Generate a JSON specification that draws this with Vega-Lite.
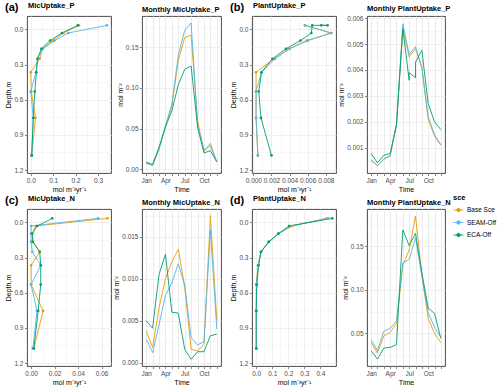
{
  "$schema": "https://vega.github.io/schema/vega-lite/v6.json",
  "background": "white",
  "padding": {"left": 4, "top": 1, "right": 2, "bottom": 4},
  "datasets": {
    "aP": [
      {"sce": "Base Sce", "depth": -0.035, "value": 0.215}, {"sce": "Base Sce", "depth": 0.03, "value": 0.145}, {"sce": "Base Sce", "depth": 0.095, "value": 0.099}, {"sce": "Base Sce", "depth": 0.165, "value": 0.051}, {"sce": "Base Sce", "depth": 0.25, "value": 0.04}, {"sce": "Base Sce", "depth": 0.365, "value": 0.0}, {"sce": "Base Sce", "depth": 0.53, "value": 0.002}, {"sce": "Base Sce", "depth": 0.755, "value": 0.021}, {"sce": "Base Sce", "depth": 1.075, "value": 0.004},
      {"sce": "SEAM-Off", "depth": -0.035, "value": 0.34}, {"sce": "SEAM-Off", "depth": 0.03, "value": 0.167}, {"sce": "SEAM-Off", "depth": 0.095, "value": 0.106}, {"sce": "SEAM-Off", "depth": 0.165, "value": 0.054}, {"sce": "SEAM-Off", "depth": 0.25, "value": 0.03}, {"sce": "SEAM-Off", "depth": 0.365, "value": 0.023}, {"sce": "SEAM-Off", "depth": 0.53, "value": 0.0}, {"sce": "SEAM-Off", "depth": 0.755, "value": 0.011}, {"sce": "SEAM-Off", "depth": 1.075, "value": 0.004},
      {"sce": "ECA-Off", "depth": -0.035, "value": 0.21}, {"sce": "ECA-Off", "depth": 0.03, "value": 0.139}, {"sce": "ECA-Off", "depth": 0.095, "value": 0.086}, {"sce": "ECA-Off", "depth": 0.165, "value": 0.047}, {"sce": "ECA-Off", "depth": 0.25, "value": 0.03}, {"sce": "ECA-Off", "depth": 0.365, "value": 0.025}, {"sce": "ECA-Off", "depth": 0.53, "value": 0.018}, {"sce": "ECA-Off", "depth": 0.755, "value": 0.011}, {"sce": "ECA-Off", "depth": 1.075, "value": 0.004}
    ],
    "bP": [
      {"sce": "Base Sce", "depth": -0.035, "value": 0.0057}, {"sce": "Base Sce", "depth": 0.03, "value": 0.0086}, {"sce": "Base Sce", "depth": 0.095, "value": 0.0059}, {"sce": "Base Sce", "depth": 0.165, "value": 0.0039}, {"sce": "Base Sce", "depth": 0.25, "value": 0.0023}, {"sce": "Base Sce", "depth": 0.365, "value": 0.0003}, {"sce": "Base Sce", "depth": 0.53, "value": 0.0003}, {"sce": "Base Sce", "depth": 0.755, "value": 0.0003}, {"sce": "Base Sce", "depth": 1.075, "value": 0.0005},
      {"sce": "SEAM-Off", "depth": -0.035, "value": 0.0057}, {"sce": "SEAM-Off", "depth": 0.03, "value": 0.0086}, {"sce": "SEAM-Off", "depth": 0.095, "value": 0.006}, {"sce": "SEAM-Off", "depth": 0.165, "value": 0.004}, {"sce": "SEAM-Off", "depth": 0.25, "value": 0.0024}, {"sce": "SEAM-Off", "depth": 0.365, "value": 0.0009}, {"sce": "SEAM-Off", "depth": 0.53, "value": 0.0003}, {"sce": "SEAM-Off", "depth": 0.755, "value": 0.0003}, {"sce": "SEAM-Off", "depth": 1.075, "value": 0.0005},
      {"sce": "ECA-Off", "depth": -0.035, "value": 0.0075}, {"sce": "ECA-Off", "depth": -0.035, "value": 0.0082}, {"sce": "ECA-Off", "depth": -0.035, "value": 0.0065}, {"sce": "ECA-Off", "depth": 0.03, "value": 0.0064}, {"sce": "ECA-Off", "depth": 0.095, "value": 0.0052}, {"sce": "ECA-Off", "depth": 0.165, "value": 0.0036}, {"sce": "ECA-Off", "depth": 0.25, "value": 0.0021}, {"sce": "ECA-Off", "depth": 0.365, "value": 0.0009}, {"sce": "ECA-Off", "depth": 0.53, "value": 0.0006}, {"sce": "ECA-Off", "depth": 0.755, "value": 0.00084}, {"sce": "ECA-Off", "depth": 1.075, "value": 0.002}
    ],
    "cN": [
      {"sce": "Base Sce", "depth": -0.035, "value": 0.065}, {"sce": "Base Sce", "depth": 0.03, "value": 0.004}, {"sce": "Base Sce", "depth": 0.095, "value": 0.001}, {"sce": "Base Sce", "depth": 0.165, "value": 0.0015}, {"sce": "Base Sce", "depth": 0.25, "value": 0.0073}, {"sce": "Base Sce", "depth": 0.365, "value": 0.0}, {"sce": "Base Sce", "depth": 0.53, "value": 0.0}, {"sce": "Base Sce", "depth": 0.755, "value": 0.0102}, {"sce": "Base Sce", "depth": 1.075, "value": 0.0023},
      {"sce": "SEAM-Off", "depth": -0.035, "value": 0.057}, {"sce": "SEAM-Off", "depth": 0.03, "value": 0.0}, {"sce": "SEAM-Off", "depth": 0.095, "value": 0.0}, {"sce": "SEAM-Off", "depth": 0.165, "value": 0.0}, {"sce": "SEAM-Off", "depth": 0.25, "value": 0.001}, {"sce": "SEAM-Off", "depth": 0.365, "value": 0.0082}, {"sce": "SEAM-Off", "depth": 0.53, "value": 0.0}, {"sce": "SEAM-Off", "depth": 0.755, "value": 0.005}, {"sce": "SEAM-Off", "depth": 1.075, "value": 0.0015},
      {"sce": "ECA-Off", "depth": -0.035, "value": 0.018}, {"sce": "ECA-Off", "depth": 0.03, "value": 0.0052}, {"sce": "ECA-Off", "depth": 0.095, "value": 0.0009}, {"sce": "ECA-Off", "depth": 0.165, "value": 0.0015}, {"sce": "ECA-Off", "depth": 0.25, "value": 0.0073}, {"sce": "ECA-Off", "depth": 0.365, "value": 0.0082}, {"sce": "ECA-Off", "depth": 0.53, "value": 0.0082}, {"sce": "ECA-Off", "depth": 0.755, "value": 0.006}, {"sce": "ECA-Off", "depth": 1.075, "value": 0.0023}
    ],
    "dN": [
      {"sce": "Base Sce", "depth": -0.035, "value": 0.438}, {"sce": "Base Sce", "depth": 0.03, "value": 0.225}, {"sce": "Base Sce", "depth": 0.095, "value": 0.14}, {"sce": "Base Sce", "depth": 0.165, "value": 0.08}, {"sce": "Base Sce", "depth": 0.25, "value": 0.03}, {"sce": "Base Sce", "depth": 0.365, "value": 0.012}, {"sce": "Base Sce", "depth": 0.53, "value": 0.0}, {"sce": "Base Sce", "depth": 0.755, "value": 0.001}, {"sce": "Base Sce", "depth": 1.075, "value": 0.001},
      {"sce": "SEAM-Off", "depth": -0.035, "value": 0.449}, {"sce": "SEAM-Off", "depth": 0.03, "value": 0.215}, {"sce": "SEAM-Off", "depth": 0.095, "value": 0.14}, {"sce": "SEAM-Off", "depth": 0.165, "value": 0.08}, {"sce": "SEAM-Off", "depth": 0.25, "value": 0.03}, {"sce": "SEAM-Off", "depth": 0.365, "value": 0.013}, {"sce": "SEAM-Off", "depth": 0.53, "value": 0.002}, {"sce": "SEAM-Off", "depth": 0.755, "value": 0.001}, {"sce": "SEAM-Off", "depth": 1.075, "value": 0.001},
      {"sce": "ECA-Off", "depth": -0.035, "value": 0.474}, {"sce": "ECA-Off", "depth": 0.03, "value": 0.205}, {"sce": "ECA-Off", "depth": 0.095, "value": 0.138}, {"sce": "ECA-Off", "depth": 0.165, "value": 0.078}, {"sce": "ECA-Off", "depth": 0.25, "value": 0.03}, {"sce": "ECA-Off", "depth": 0.365, "value": 0.015}, {"sce": "ECA-Off", "depth": 0.53, "value": 0.004}, {"sce": "ECA-Off", "depth": 0.755, "value": 0.0}, {"sce": "ECA-Off", "depth": 1.075, "value": 0.0}
    ],
    "mMP": [
      {"sce": "Base Sce", "month": 1, "value": 0.0074}, {"sce": "Base Sce", "month": 2, "value": 0.0053}, {"sce": "Base Sce", "month": 3, "value": 0.026}, {"sce": "Base Sce", "month": 4, "value": 0.053}, {"sce": "Base Sce", "month": 5, "value": 0.078}, {"sce": "Base Sce", "month": 6, "value": 0.134}, {"sce": "Base Sce", "month": 7, "value": 0.162}, {"sce": "Base Sce", "month": 8, "value": 0.165}, {"sce": "Base Sce", "month": 9, "value": 0.06}, {"sce": "Base Sce", "month": 10, "value": 0.022}, {"sce": "Base Sce", "month": 11, "value": 0.032}, {"sce": "Base Sce", "month": 12, "value": 0.009},
      {"sce": "SEAM-Off", "month": 1, "value": 0.0078}, {"sce": "SEAM-Off", "month": 2, "value": 0.0048}, {"sce": "SEAM-Off", "month": 3, "value": 0.024}, {"sce": "SEAM-Off", "month": 4, "value": 0.053}, {"sce": "SEAM-Off", "month": 5, "value": 0.08}, {"sce": "SEAM-Off", "month": 6, "value": 0.14}, {"sce": "SEAM-Off", "month": 7, "value": 0.171}, {"sce": "SEAM-Off", "month": 8, "value": 0.18}, {"sce": "SEAM-Off", "month": 9, "value": 0.055}, {"sce": "SEAM-Off", "month": 10, "value": 0.024}, {"sce": "SEAM-Off", "month": 11, "value": 0.029}, {"sce": "SEAM-Off", "month": 12, "value": 0.009},
      {"sce": "ECA-Off", "month": 1, "value": 0.009}, {"sce": "ECA-Off", "month": 2, "value": 0.006}, {"sce": "ECA-Off", "month": 3, "value": 0.027}, {"sce": "ECA-Off", "month": 4, "value": 0.052}, {"sce": "ECA-Off", "month": 5, "value": 0.072}, {"sce": "ECA-Off", "month": 6, "value": 0.104}, {"sce": "ECA-Off", "month": 7, "value": 0.123}, {"sce": "ECA-Off", "month": 8, "value": 0.127}, {"sce": "ECA-Off", "month": 9, "value": 0.052}, {"sce": "ECA-Off", "month": 10, "value": 0.02}, {"sce": "ECA-Off", "month": 11, "value": 0.023}, {"sce": "ECA-Off", "month": 12, "value": 0.009}
    ],
    "mPP": [
      {"sce": "Base Sce", "month": 1, "value": 0.00052}, {"sce": "Base Sce", "month": 2, "value": 0.00032}, {"sce": "Base Sce", "month": 3, "value": 0.00055}, {"sce": "Base Sce", "month": 4, "value": 0.00068}, {"sce": "Base Sce", "month": 5, "value": 0.0019}, {"sce": "Base Sce", "month": 6, "value": 0.00558}, {"sce": "Base Sce", "month": 7, "value": 0.0045}, {"sce": "Base Sce", "month": 8, "value": 0.00482}, {"sce": "Base Sce", "month": 9, "value": 0.0041}, {"sce": "Base Sce", "month": 10, "value": 0.0021}, {"sce": "Base Sce", "month": 11, "value": 0.00145}, {"sce": "Base Sce", "month": 12, "value": 0.0011},
      {"sce": "SEAM-Off", "month": 1, "value": 0.00055}, {"sce": "SEAM-Off", "month": 2, "value": 0.0003}, {"sce": "SEAM-Off", "month": 3, "value": 0.00058}, {"sce": "SEAM-Off", "month": 4, "value": 0.0007}, {"sce": "SEAM-Off", "month": 5, "value": 0.0019}, {"sce": "SEAM-Off", "month": 6, "value": 0.00578}, {"sce": "SEAM-Off", "month": 7, "value": 0.0046}, {"sce": "SEAM-Off", "month": 8, "value": 0.0049}, {"sce": "SEAM-Off", "month": 9, "value": 0.0041}, {"sce": "SEAM-Off", "month": 10, "value": 0.0022}, {"sce": "SEAM-Off", "month": 11, "value": 0.0015}, {"sce": "SEAM-Off", "month": 12, "value": 0.00112},
      {"sce": "ECA-Off", "month": 1, "value": 0.00078}, {"sce": "ECA-Off", "month": 2, "value": 0.00042}, {"sce": "ECA-Off", "month": 3, "value": 0.00071}, {"sce": "ECA-Off", "month": 4, "value": 0.00078}, {"sce": "ECA-Off", "month": 5, "value": 0.0019}, {"sce": "ECA-Off", "month": 6, "value": 0.0056}, {"sce": "ECA-Off", "month": 7, "value": 0.0036}, {"sce": "ECA-Off", "month": 7, "value": 0.0039}, {"sce": "ECA-Off", "month": 8, "value": 0.0037}, {"sce": "ECA-Off", "month": 8, "value": 0.0043}, {"sce": "ECA-Off", "month": 9, "value": 0.00476}, {"sce": "ECA-Off", "month": 10, "value": 0.0027}, {"sce": "ECA-Off", "month": 11, "value": 0.002}, {"sce": "ECA-Off", "month": 12, "value": 0.0017}
    ],
    "mMN": [
      {"sce": "Base Sce", "month": 1, "value": 0.0038}, {"sce": "Base Sce", "month": 2, "value": 0.0018}, {"sce": "Base Sce", "month": 3, "value": 0.0065}, {"sce": "Base Sce", "month": 4, "value": 0.01}, {"sce": "Base Sce", "month": 5, "value": 0.012}, {"sce": "Base Sce", "month": 6, "value": 0.0135}, {"sce": "Base Sce", "month": 7, "value": 0.009}, {"sce": "Base Sce", "month": 8, "value": 0.0016}, {"sce": "Base Sce", "month": 9, "value": 0.0014}, {"sce": "Base Sce", "month": 10, "value": 0.0022}, {"sce": "Base Sce", "month": 11, "value": 0.0175}, {"sce": "Base Sce", "month": 12, "value": 0.005},
      {"sce": "SEAM-Off", "month": 1, "value": 0.0028}, {"sce": "SEAM-Off", "month": 2, "value": 0.0012}, {"sce": "SEAM-Off", "month": 3, "value": 0.0045}, {"sce": "SEAM-Off", "month": 4, "value": 0.008}, {"sce": "SEAM-Off", "month": 5, "value": 0.0095}, {"sce": "SEAM-Off", "month": 6, "value": 0.0118}, {"sce": "SEAM-Off", "month": 7, "value": 0.0092}, {"sce": "SEAM-Off", "month": 8, "value": 0.003}, {"sce": "SEAM-Off", "month": 9, "value": 0.0021}, {"sce": "SEAM-Off", "month": 10, "value": 0.0025}, {"sce": "SEAM-Off", "month": 11, "value": 0.0158}, {"sce": "SEAM-Off", "month": 12, "value": 0.004},
      {"sce": "ECA-Off", "month": 1, "value": 0.005}, {"sce": "ECA-Off", "month": 2, "value": 0.0041}, {"sce": "ECA-Off", "month": 3, "value": 0.0105}, {"sce": "ECA-Off", "month": 4, "value": 0.0129}, {"sce": "ECA-Off", "month": 5, "value": 0.006}, {"sce": "ECA-Off", "month": 6, "value": 0.0059}, {"sce": "ECA-Off", "month": 7, "value": 0.0016}, {"sce": "ECA-Off", "month": 8, "value": 0.0004}, {"sce": "ECA-Off", "month": 9, "value": 0.0013}, {"sce": "ECA-Off", "month": 10, "value": 0.0013}, {"sce": "ECA-Off", "month": 11, "value": 0.0032}, {"sce": "ECA-Off", "month": 12, "value": 0.0034}
    ],
    "mPN": [
      {"sce": "Base Sce", "month": 1, "value": 0.0396}, {"sce": "Base Sce", "month": 2, "value": 0.0273}, {"sce": "Base Sce", "month": 3, "value": 0.0472}, {"sce": "Base Sce", "month": 4, "value": 0.0509}, {"sce": "Base Sce", "month": 5, "value": 0.0615}, {"sce": "Base Sce", "month": 6, "value": 0.128}, {"sce": "Base Sce", "month": 7, "value": 0.146}, {"sce": "Base Sce", "month": 8, "value": 0.185}, {"sce": "Base Sce", "month": 9, "value": 0.117}, {"sce": "Base Sce", "month": 10, "value": 0.0665}, {"sce": "Base Sce", "month": 11, "value": 0.05}, {"sce": "Base Sce", "month": 12, "value": 0.0396},
      {"sce": "SEAM-Off", "month": 1, "value": 0.043}, {"sce": "SEAM-Off", "month": 2, "value": 0.03}, {"sce": "SEAM-Off", "month": 3, "value": 0.0523}, {"sce": "SEAM-Off", "month": 4, "value": 0.0557}, {"sce": "SEAM-Off", "month": 5, "value": 0.0646}, {"sce": "SEAM-Off", "month": 6, "value": 0.131}, {"sce": "SEAM-Off", "month": 7, "value": 0.135}, {"sce": "SEAM-Off", "month": 8, "value": 0.16}, {"sce": "SEAM-Off", "month": 9, "value": 0.116}, {"sce": "SEAM-Off", "month": 10, "value": 0.074}, {"sce": "SEAM-Off", "month": 11, "value": 0.0569}, {"sce": "SEAM-Off", "month": 12, "value": 0.0454},
      {"sce": "ECA-Off", "month": 1, "value": 0.03}, {"sce": "ECA-Off", "month": 2, "value": 0.0204}, {"sce": "ECA-Off", "month": 3, "value": 0.0331}, {"sce": "ECA-Off", "month": 4, "value": 0.0339}, {"sce": "ECA-Off", "month": 5, "value": 0.037}, {"sce": "ECA-Off", "month": 6, "value": 0.169}, {"sce": "ECA-Off", "month": 7, "value": 0.151}, {"sce": "ECA-Off", "month": 8, "value": 0.165}, {"sce": "ECA-Off", "month": 9, "value": 0.12}, {"sce": "ECA-Off", "month": 10, "value": 0.079}, {"sce": "ECA-Off", "month": 11, "value": 0.073}, {"sce": "ECA-Off", "month": 12, "value": 0.0442}
    ]
  },
  "columns": 4,
  "spacing": {"row": 36, "column": 31},
  "bounds": "flush",
  "align": "each",
  "concat": [
    {
      "width": 84, "height": 157,
      "title": {"text": "(a)", "subtitle": "\u200b\u00a0\u00a0\u00a0\u00a0\u00a0\u00a0\u00a0\u00a0\u00a0\u00a0\u00a0MicUptake_P"},
      "data": {"name": "aP"},
      "encoding": {
        "x": {"field": "value", "type": "quantitative", "scale": {"domain": [-0.017, 0.358], "nice": false, "zero": false},
          "axis": {"title": "mol m\u207b\u00b3yr\u207b\u00b9", "values": [0, 0.05, 0.1, 0.15, 0.2, 0.25, 0.3, 0.35],
            "labelExpr": "round(datum.value*100)%10==0 ? format(datum.value,'.1f') : ''",
            "gridWidth": {"condition": {"test": "round(datum.value*100)%10!=0", "value": 0.4}, "value": 0.8},
            "tickOpacity": {"condition": {"test": "round(datum.value*100)%10!=0", "value": 0}, "value": 1}}},
        "y": {"field": "depth", "type": "quantitative", "scale": {"domain": [-0.115, 1.225], "reverse": true, "nice": false, "zero": false},
          "axis": {"title": "Depth,m", "values": [0, 0.15, 0.3, 0.45, 0.6, 0.75, 0.9, 1.05, 1.2],
            "labelExpr": "round(datum.value*100)%30==0 ? format(datum.value,'.1f') : ''",
            "gridWidth": {"condition": {"test": "round(datum.value*100)%30!=0", "value": 0.4}, "value": 0.8},
            "tickOpacity": {"condition": {"test": "round(datum.value*100)%30!=0", "value": 0}, "value": 1}}},
        "color": {"field": "sce", "type": "nominal", "scale": {"domain": ["Base Sce", "SEAM-Off", "ECA-Off"], "range": ["#E69F00", "#56B4E9", "#009E73"]},
          "legend": {"title": "sce", "encode": {"symbols": {"update": {"fill": {"scale": "color", "field": "value"}, "stroke": {"scale": "color", "field": "value"}}}}}},
        "order": {"field": "depth", "type": "quantitative"}
      },
      "layer": [
        {"mark": {"type": "line", "strokeWidth": 0.9}},
        {"mark": {"type": "point", "filled": true, "size": 7, "opacity": 1}}
      ]
    },
    {
      "width": 79, "height": 157,
      "title": {"text": "Monthly MicUptake_P", "fontSize": 7.5, "dx": 0},
      "data": {"name": "mMP"},
      "mark": {"type": "line", "strokeWidth": 0.9},
      "encoding": {
        "x": {"field": "month", "type": "quantitative", "scale": {"domain": [0.35, 12.65], "nice": false, "zero": false},
          "axis": {"title": "Time", "values": [1, 2, 3, 4, 5, 6, 7, 8, 9, 10, 11, 12],
            "labelExpr": "datum.value==1?'Jan':datum.value==4?'Apr':datum.value==7?'Jul':datum.value==10?'Oct':''"}},
        "y": {"field": "value", "type": "quantitative", "scale": {"domain": [-0.0045, 0.1885], "nice": false, "zero": false},
          "axis": {"title": "mol m\u207b\u00b2", "values": [0, 0.025, 0.05, 0.075, 0.1, 0.125, 0.15, 0.175],
            "labelExpr": "round(datum.value*1000)%50==0 ? format(datum.value,'.2f') : ''",
            "gridWidth": {"condition": {"test": "round(datum.value*1000)%50!=0", "value": 0.4}, "value": 0.8},
            "tickOpacity": {"condition": {"test": "round(datum.value*1000)%50!=0", "value": 0}, "value": 1}}},
        "color": {"field": "sce", "type": "nominal", "scale": {"domain": ["Base Sce", "SEAM-Off", "ECA-Off"], "range": ["#E69F00", "#56B4E9", "#009E73"]}, "legend": {"title": "sce"}}
      }
    },
    {
      "width": 84, "height": 157,
      "title": {"text": "(b)", "subtitle": "\u200b\u00a0\u00a0\u00a0\u00a0\u00a0\u00a0\u00a0\u00a0\u00a0\u00a0\u00a0PlantUptake_P"},
      "data": {"name": "bP"},
      "encoding": {
        "x": {"field": "value", "type": "quantitative", "scale": {"domain": [-0.00015, 0.00912], "nice": false, "zero": false},
          "axis": {"title": "mol m\u207b\u00b3yr\u207b\u00b9", "values": [0, 0.001, 0.002, 0.003, 0.004, 0.005, 0.006, 0.007, 0.008, 0.009],
            "labelExpr": "round(datum.value*10000)%20==0 ? format(datum.value,'.3f') : ''",
            "gridWidth": {"condition": {"test": "round(datum.value*10000)%20!=0", "value": 0.4}, "value": 0.8},
            "tickOpacity": {"condition": {"test": "round(datum.value*10000)%20!=0", "value": 0}, "value": 1}}},
        "y": {"field": "depth", "type": "quantitative", "scale": {"domain": [-0.115, 1.225], "reverse": true, "nice": false, "zero": false},
          "axis": {"title": "Depth,m", "values": [0, 0.15, 0.3, 0.45, 0.6, 0.75, 0.9, 1.05, 1.2],
            "labelExpr": "round(datum.value*100)%30==0 ? format(datum.value,'.1f') : ''",
            "gridWidth": {"condition": {"test": "round(datum.value*100)%30!=0", "value": 0.4}, "value": 0.8},
            "tickOpacity": {"condition": {"test": "round(datum.value*100)%30!=0", "value": 0}, "value": 1}}},
        "color": {"field": "sce", "type": "nominal", "scale": {"domain": ["Base Sce", "SEAM-Off", "ECA-Off"], "range": ["#E69F00", "#56B4E9", "#009E73"]}, "legend": {"title": "sce"}},
        "order": {"field": "depth", "type": "quantitative"}
      },
      "layer": [
        {"mark": {"type": "line", "strokeWidth": 0.9}},
        {"mark": {"type": "point", "filled": true, "size": 7, "opacity": 1}}
      ]
    },
    {
      "width": 78, "height": 157,
      "title": {"text": "Monthly PlantUptake_P", "fontSize": 7.5, "dx": 0},
      "data": {"name": "mPP"},
      "mark": {"type": "line", "strokeWidth": 0.9},
      "encoding": {
        "x": {"field": "month", "type": "quantitative", "scale": {"domain": [0.35, 12.65], "nice": false, "zero": false},
          "axis": {"title": "Time", "values": [1, 2, 3, 4, 5, 6, 7, 8, 9, 10, 11, 12],
            "labelExpr": "datum.value==1?'Jan':datum.value==4?'Apr':datum.value==7?'Jul':datum.value==10?'Oct':''"}},
        "y": {"field": "value", "type": "quantitative", "scale": {"domain": [0.00003, 0.00608], "nice": false, "zero": false},
          "axis": {"title": "mol m\u207b\u00b2", "values": [0.0005, 0.001, 0.0015, 0.002, 0.0025, 0.003, 0.0035, 0.004, 0.0045, 0.005, 0.0055, 0.006],
            "labelExpr": "round(datum.value*10000)%10==0 ? format(datum.value,'.3f') : ''",
            "gridWidth": {"condition": {"test": "round(datum.value*10000)%10!=0", "value": 0.4}, "value": 0.8},
            "tickOpacity": {"condition": {"test": "round(datum.value*10000)%10!=0", "value": 0}, "value": 1}}},
        "color": {"field": "sce", "type": "nominal", "scale": {"domain": ["Base Sce", "SEAM-Off", "ECA-Off"], "range": ["#E69F00", "#56B4E9", "#009E73"]}, "legend": {"title": "sce"}}
      }
    },
    {
      "width": 84, "height": 157,
      "title": {"text": "(c)", "subtitle": "\u200b\u00a0\u00a0\u00a0\u00a0\u00a0\u00a0\u00a0\u00a0\u00a0\u00a0\u00a0MicUptake_N"},
      "data": {"name": "cN"},
      "encoding": {
        "x": {"field": "value", "type": "quantitative", "scale": {"domain": [-0.0035, 0.068], "nice": false, "zero": false},
          "axis": {"title": "mol m\u207b\u00b3yr\u207b\u00b9", "values": [0, 0.01, 0.02, 0.03, 0.04, 0.05, 0.06],
            "labelExpr": "round(datum.value*100)%2==0 ? format(datum.value,'.2f') : ''",
            "gridWidth": {"condition": {"test": "round(datum.value*100)%2!=0", "value": 0.4}, "value": 0.8},
            "tickOpacity": {"condition": {"test": "round(datum.value*100)%2!=0", "value": 0}, "value": 1}}},
        "y": {"field": "depth", "type": "quantitative", "scale": {"domain": [-0.115, 1.225], "reverse": true, "nice": false, "zero": false},
          "axis": {"title": "Depth,m", "values": [0, 0.15, 0.3, 0.45, 0.6, 0.75, 0.9, 1.05, 1.2],
            "labelExpr": "round(datum.value*100)%30==0 ? format(datum.value,'.1f') : ''",
            "gridWidth": {"condition": {"test": "round(datum.value*100)%30!=0", "value": 0.4}, "value": 0.8},
            "tickOpacity": {"condition": {"test": "round(datum.value*100)%30!=0", "value": 0}, "value": 1}}},
        "color": {"field": "sce", "type": "nominal", "scale": {"domain": ["Base Sce", "SEAM-Off", "ECA-Off"], "range": ["#E69F00", "#56B4E9", "#009E73"]}, "legend": {"title": "sce"}},
        "order": {"field": "depth", "type": "quantitative"}
      },
      "layer": [
        {"mark": {"type": "line", "strokeWidth": 0.9}},
        {"mark": {"type": "point", "filled": true, "size": 7, "opacity": 1}}
      ]
    },
    {
      "width": 79, "height": 157,
      "title": {"text": "Monthly MicUptake_N", "fontSize": 7.5, "dx": 0},
      "data": {"name": "mMN"},
      "mark": {"type": "line", "strokeWidth": 0.9},
      "encoding": {
        "x": {"field": "month", "type": "quantitative", "scale": {"domain": [0.35, 12.65], "nice": false, "zero": false},
          "axis": {"title": "Time", "values": [1, 2, 3, 4, 5, 6, 7, 8, 9, 10, 11, 12],
            "labelExpr": "datum.value==1?'Jan':datum.value==4?'Apr':datum.value==7?'Jul':datum.value==10?'Oct':''"}},
        "y": {"field": "value", "type": "quantitative", "scale": {"domain": [-0.0004, 0.0183], "nice": false, "zero": false},
          "axis": {"title": "mol m\u207b\u00b2", "values": [0, 0.0025, 0.005, 0.0075, 0.01, 0.0125, 0.015, 0.0175],
            "labelExpr": "round(datum.value*10000)%50==0 ? format(datum.value,'.3f') : ''",
            "gridWidth": {"condition": {"test": "round(datum.value*10000)%50!=0", "value": 0.4}, "value": 0.8},
            "tickOpacity": {"condition": {"test": "round(datum.value*10000)%50!=0", "value": 0}, "value": 1}}},
        "color": {"field": "sce", "type": "nominal", "scale": {"domain": ["Base Sce", "SEAM-Off", "ECA-Off"], "range": ["#E69F00", "#56B4E9", "#009E73"]}, "legend": {"title": "sce"}}
      }
    },
    {
      "width": 84, "height": 157,
      "title": {"text": "(d)", "subtitle": "\u200b\u00a0\u00a0\u00a0\u00a0\u00a0\u00a0\u00a0\u00a0\u00a0\u00a0\u00a0PlantUptake_N"},
      "data": {"name": "dN"},
      "encoding": {
        "x": {"field": "value", "type": "quantitative", "scale": {"domain": [-0.026, 0.497], "nice": false, "zero": false},
          "axis": {"title": "mol m\u207b\u00b3yr\u207b\u00b9", "values": [0, 0.05, 0.1, 0.15, 0.2, 0.25, 0.3, 0.35, 0.4, 0.45],
            "labelExpr": "round(datum.value*100)%10==0 ? format(datum.value,'.1f') : ''",
            "gridWidth": {"condition": {"test": "round(datum.value*100)%10!=0", "value": 0.4}, "value": 0.8},
            "tickOpacity": {"condition": {"test": "round(datum.value*100)%10!=0", "value": 0}, "value": 1}}},
        "y": {"field": "depth", "type": "quantitative", "scale": {"domain": [-0.115, 1.225], "reverse": true, "nice": false, "zero": false},
          "axis": {"title": "Depth,m", "values": [0, 0.15, 0.3, 0.45, 0.6, 0.75, 0.9, 1.05, 1.2],
            "labelExpr": "round(datum.value*100)%30==0 ? format(datum.value,'.1f') : ''",
            "gridWidth": {"condition": {"test": "round(datum.value*100)%30!=0", "value": 0.4}, "value": 0.8},
            "tickOpacity": {"condition": {"test": "round(datum.value*100)%30!=0", "value": 0}, "value": 1}}},
        "color": {"field": "sce", "type": "nominal", "scale": {"domain": ["Base Sce", "SEAM-Off", "ECA-Off"], "range": ["#E69F00", "#56B4E9", "#009E73"]}, "legend": {"title": "sce"}},
        "order": {"field": "depth", "type": "quantitative"}
      },
      "layer": [
        {"mark": {"type": "line", "strokeWidth": 0.9}},
        {"mark": {"type": "point", "filled": true, "size": 7, "opacity": 1}}
      ]
    },
    {
      "width": 78, "height": 157,
      "title": {"text": "Monthly PlantUptake_N", "fontSize": 7.5, "dx": 0},
      "data": {"name": "mPN"},
      "mark": {"type": "line", "strokeWidth": 0.9},
      "encoding": {
        "x": {"field": "month", "type": "quantitative", "scale": {"domain": [0.35, 12.65], "nice": false, "zero": false},
          "axis": {"title": "Time", "values": [1, 2, 3, 4, 5, 6, 7, 8, 9, 10, 11, 12],
            "labelExpr": "datum.value==1?'Jan':datum.value==4?'Apr':datum.value==7?'Jul':datum.value==10?'Oct':''"}},
        "y": {"field": "value", "type": "quantitative", "scale": {"domain": [0.0125, 0.193], "nice": false, "zero": false},
          "axis": {"title": "mol m\u207b\u00b2", "values": [0.025, 0.05, 0.075, 0.1, 0.125, 0.15, 0.175],
            "labelExpr": "round(datum.value*1000)%50==0 ? format(datum.value,'.2f') : ''",
            "gridWidth": {"condition": {"test": "round(datum.value*1000)%50!=0", "value": 0.4}, "value": 0.8},
            "tickOpacity": {"condition": {"test": "round(datum.value*1000)%50!=0", "value": 0}, "value": 1}}},
        "color": {"field": "sce", "type": "nominal", "scale": {"domain": ["Base Sce", "SEAM-Off", "ECA-Off"], "range": ["#E69F00", "#56B4E9", "#009E73"]}, "legend": {"title": "sce"}}
      }
    }
  ],
  "config": {
    "font": "Liberation Sans",
    "view": {"stroke": "#333333", "strokeWidth": 0.9},
    "axis": {"labelFontSize": 6.5, "labelColor": "#4D4D4D", "labelFont": "Liberation Sans", "titleFont": "Liberation Sans", "titleFontSize": 7, "titleFontWeight": "normal", "titleColor": "#000000", "tickColor": "#333333", "tickSize": 2.5, "tickWidth": 0.6, "domain": false, "gridColor": "#EBEBEB", "labelPadding": 1.5, "titlePadding": 2, "labelFlush": false, "labelOverlap": false},
    "title": {"fontSize": 11, "fontWeight": "bold", "font": "Liberation Sans", "anchor": "start", "frame": "group", "offset": 3, "color": "#000000", "dx": -22, "subtitleFont": "Liberation Sans", "subtitleFontSize": 7.5, "subtitleFontWeight": "bold", "subtitleColor": "#000000", "subtitlePadding": -11},
    "legend": {"orient": "none", "legendX": 426, "legendY": 178, "titleFontSize": 7.5, "titleFont": "Liberation Sans", "titleFontWeight": "bold", "labelFont": "Liberation Sans", "labelFontSize": 6.5, "labelColor": "#000000", "symbolType": "M-1,0L1,0M-0.35,0A0.35,0.35,0,1,1,0.35,0A0.35,0.35,0,1,1,-0.35,0Z", "symbolSize": 100, "symbolStrokeWidth": 0.9, "rowPadding": 2.5, "titlePadding": 3, "labelOffset": 3}
  }
}
